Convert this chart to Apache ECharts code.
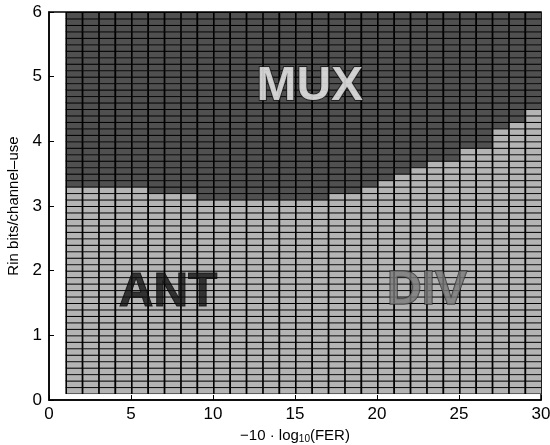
<!DOCTYPE html>
<html>
<head>
<meta charset="utf-8">
<script src="https://cdn.jsdelivr.net/npm/echarts@6/dist/echarts.min.js"></script>
<style>
  html, body { margin: 0; padding: 0; background: #fff; }
  #main { width: 550px; height: 445px; }
</style>
</head>
<body>
<div id="main"></div>
<script>
// columns start at x = 1..29, each 1 wide
var colStart = [1, 2, 3, 4, 5, 6, 7, 8, 9, 10, 11, 12, 13, 14, 15, 16, 17, 18, 19, 20, 21, 22, 23, 24, 25, 26, 27, 28, 29];
// rate where the MUX region begins, per column
var muxFrom = [3.3, 3.3, 3.3, 3.3, 3.3, 3.2, 3.2, 3.2, 3.1, 3.1, 3.1, 3.1, 3.1, 3.1, 3.1, 3.1,
               3.2, 3.2, 3.3, 3.4, 3.5, 3.6, 3.7, 3.7, 3.9, 3.9, 4.2, 4.3, 4.5];
// rows of the rate grid (bits/channel-use), 0.1 tall
var rowStart = [];
for (var r = 1; r < 60; r++) rowStart.push(+(r / 10).toFixed(1));
var regionNames = ['MUX', 'ANT', 'DIV'];
var regionX = [15.9, 7.26, 23.05];
var regionY = [4.85, 1.66, 1.69];

var cells = [];
for (var i = 0; i < colStart.length; i++) {
    for (var j = 0; j < rowStart.length; j++) {
        var mux = rowStart[j] >= muxFrom[i] - 1e-9 ? 1 : 0;
        cells.push([colStart[i], rowStart[j], mux]);
    }
}

var labelStyles = {
    MUX: { color: '#f4f4f4', textBorderColor: '#1a1a1a', textBorderWidth: 2 },
    ANT: { color: '#111', textBorderColor: '#000', textBorderWidth: 1 },
    DIV: { color: '#7a7a7a', textBorderColor: '#2a2a2a', textBorderWidth: 1.5 }
};

var labels = [];
for (var k = 0; k < regionNames.length; k++) {
    labels.push({ value: [regionX[k], regionY[k]], name: regionNames[k], label: labelStyles[regionNames[k]] });
}

var chart = echarts.init(document.getElementById('main'));
var font = 'Liberation Sans, Arial, Helvetica, sans-serif';

chart.setOption({
    animation: false,
    grid: { left: 49, right: 9, top: 12, bottom: 45, outerBoundsMode: 'none', containLabel: false,
        show: true, borderColor: '#000', borderWidth: 1.5, backgroundColor: 'transparent' },
    xAxis: {
        type: 'value', min: 0, max: 30, interval: 5,
        name: '−10 · log{s|10}(FER)', nameLocation: 'middle', nameGap: 25,
        nameTextStyle: { fontFamily: font, fontSize: 15, color: '#000', rich: { s: { fontSize: 10, padding: [8, 0, 0, 0], fontFamily: font } } },
        axisLine: { lineStyle: { color: '#000', width: 1.5 } },
        axisTick: { inside: true, length: 5, lineStyle: { color: '#000' } },
        axisLabel: { fontFamily: font, fontSize: 17, color: '#000', margin: 6 },
        splitLine: { show: false }
    },
    yAxis: {
        type: 'value', min: 0, max: 6, interval: 1,
        name: 'Rin bits/channel–use', nameLocation: 'middle', nameGap: 27,
        nameTextStyle: { fontFamily: font, fontSize: 15, color: '#000' },
        axisLine: { lineStyle: { color: '#000', width: 1.5 } },
        axisTick: { inside: true, length: 5, lineStyle: { color: '#000' } },
        axisLabel: { fontFamily: font, fontSize: 17, color: '#000', margin: 7 },
        splitLine: { show: false }
    },
    series: [{
        type: 'custom',
        data: cells,
        encode: { x: 0, y: 1 },
        renderItem: function (params, api) {
            var x0 = api.value(0), y0 = api.value(1), mux = api.value(2);
            var p0 = api.coord([x0, y0 + 0.1]);
            var p1 = api.coord([x0 + 1, y0]);
            var w = p1[0] - p0[0], h = p1[1] - p0[1];
            return {
                type: 'group',
                children: [{
                    type: 'rect',
                    shape: { x: p0[0], y: p0[1], width: w + 0.5, height: h + 0.5 },
                    style: { fill: '#000' }
                }, {
                    type: 'rect',
                    shape: { x: p0[0] + 1.6, y: p0[1] + 1, width: w - 1.6, height: h - 1 },
                    style: { fill: mux ? '#505050' : '#b4b4b4' }
                }]
            };
        },
        z: 2
    }, {
        type: 'scatter',
        data: labels,
        symbolSize: 0,
        z: 5,
        label: {
            show: true,
            position: 'inside',
            fontFamily: font,
            fontWeight: 'bold',
            fontSize: 48,
            formatter: '{b}'
        }
    }]
});
</script>
</body>
</html>
